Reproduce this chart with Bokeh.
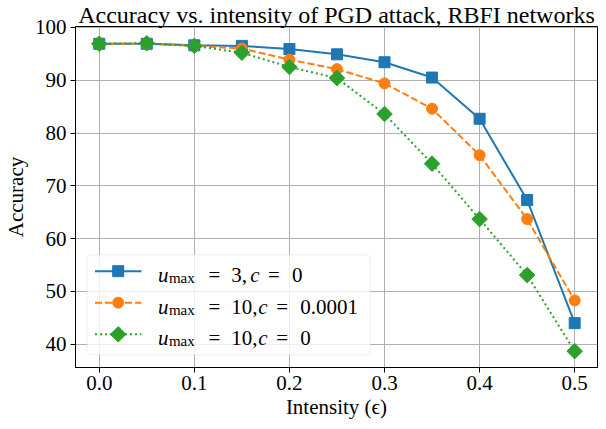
import numpy as np
from bokeh.plotting import figure
from bokeh.models import Range1d, FixedTicker, BoxAnnotation
from bokeh.core.properties import value
from bokeh.embed import file_html
from bokeh.resources import INLINE

# ---------------- data ----------------
eps = [0.0, 0.05, 0.1, 0.15, 0.2, 0.25, 0.3, 0.35, 0.4, 0.45, 0.5]
acc_u3_c0 = [96.9, 96.9, 96.6, 96.5, 95.9, 94.9, 93.4, 90.5, 82.7, 67.3, 44.0]
acc_u10_c1e4 = [96.9, 96.9, 96.5, 96.0, 93.9, 92.1, 89.4, 84.6, 75.8, 63.7, 48.3]
acc_u10_c0 = [96.9, 97.0, 96.5, 95.2, 92.5, 90.4, 83.6, 74.2, 63.7, 53.1, 38.7]

x_ticks = [0.0, 0.1, 0.2, 0.3, 0.4, 0.5]
x_tick_labels = ["0.0", "0.1", "0.2", "0.3", "0.4", "0.5"]
y_ticks = [40, 50, 60, 70, 80, 90, 100]
y_tick_labels = ["40", "50", "60", "70", "80", "90", "100"]

legend_umax = ["3", "10", "10"]
legend_c = ["0", "0.0001", "0"]

title_text = "Accuracy vs. intensity of PGD attack, RBFI networks"
x_label = "Intensity (\u03f5)"
y_label = "Accuracy"

# ---------------- styles ----------------
FONT = "Liberation Serif"
colors = ["#1f77b4", "#ff7f0e", "#2ca02c"]
dashes = ["solid", "7 3", "2 3"]
series = [acc_u3_c0, acc_u10_c1e4, acc_u10_c0]

p = figure(width=598, height=421, output_backend="svg", toolbar_location=None,
           x_range=Range1d(-0.025, 0.524), y_range=Range1d(35.6, 100.17),
           min_border_left=72, min_border_right=1, min_border_top=0, min_border_bottom=0)
p.background_fill_color = "white"
p.border_fill_color = "white"
p.outline_line_color = "black"
p.outline_line_alpha = 1.0
p.outline_line_width = 1

p.title.text = title_text
p.title.align = "center"
p.title.text_font = FONT
p.title.text_font_size = "24px"
p.title.text_font_style = "normal"
p.title.text_color = "black"
p.title.standoff = -2
p.title.offset = 0

for ax in (p.xaxis[0], p.yaxis[0]):
    ax.axis_line_color = "black"
    ax.major_tick_line_color = "black"
    ax.major_tick_out = 5
    ax.major_tick_in = 0
    ax.minor_tick_line_color = None
    ax.major_label_text_font = FONT
    ax.major_label_text_font_size = "21px"
    ax.major_label_text_color = "black"
    ax.axis_label_text_font = FONT
    ax.axis_label_text_font_size = "21px"
    ax.axis_label_text_font_style = "normal"
    ax.axis_label_text_color = "black"
    ax.major_label_standoff = 4
    ax.axis_label_standoff = 4

p.xaxis.major_label_standoff = 3
p.xaxis.axis_label_standoff = 2

p.xaxis.ticker = FixedTicker(ticks=x_ticks)
p.yaxis.ticker = FixedTicker(ticks=y_ticks)
p.xaxis.major_label_overrides = {t: l for t, l in zip(x_ticks, x_tick_labels)}
p.yaxis.major_label_overrides = {t: l for t, l in zip(y_ticks, y_tick_labels)}
p.xaxis.axis_label = x_label
p.yaxis.axis_label = y_label

for g in (p.xgrid[0], p.ygrid[0]):
    g.grid_line_color = "#b0b0b0"
    g.grid_line_width = 1
    g.grid_line_alpha = 1.0

# ---------------- series ----------------
markers = ["square", "circle", "square"]
angles = [0, 0, np.pi / 4]
msizes = [11, 11, 11]
for ys, c, d, m, a, s in zip(series, colors, dashes, markers, angles, msizes):
    p.line(eps, ys, line_color=c, line_width=2, line_dash=d)
    p.scatter(eps, ys, marker=m, size=s, angle=a, fill_color=c, line_color=c)

# ---------------- legend (manual, for the math-style labels) ----------------
box = BoxAnnotation(left=-0.0126, right=0.2849, top=56.94, bottom=38.0,
                    fill_color="white", fill_alpha=0.8, line_color="#cccccc",
                    line_width=1, border_radius=4, level="annotation")
p.add_layout(box)

row_y = [53.84, 47.88, 41.88]
h_x0, h_x1, h_xm = -0.0045, 0.0444, 0.0199
t_x = 0.0617
for i in range(3):
    y = row_y[i]
    p.line([h_x0, h_x1], [y, y], line_color=colors[i], line_width=2,
           line_dash=dashes[i], level="overlay")
    p.scatter([h_xm], [y], marker=markers[i], size=msizes[i], angle=angles[i],
              fill_color=colors[i], line_color=colors[i], level="overlay")
    val = legend_umax[i]
    cval = legend_c[i]
    short = len(val) == 1
    pieces = [
        ("u", 0.0, "italic", "21px", 4, "left"),
        ("max", 11.0, "normal", "15px", 7, "left"),
        ("=", 56.5, "normal", "21px", 4, "center"),
        (val + ",", 73.4, "normal", "21px", 4, "left"),
        ("c", 97.0 if short else 105.0, "italic", "21px", 4, "center"),
        ("=", 115.9 if short else 124.2, "normal", "21px", 4, "center"),
        (cval, 134.0 if short else 142.4, "normal", "21px", 4, "left"),
    ]
    for txt, xo, style, fs, yo, al in pieces:
        p.text(x=[t_x], y=[y], text=[txt], x_offset=xo, y_offset=yo,
               text_font=value(FONT), text_font_size=fs, text_font_style=style,
               text_color="black", text_baseline="alphabetic", text_align=al,
               level="overlay")

open("out.html", "w").write(file_html(p, INLINE))
